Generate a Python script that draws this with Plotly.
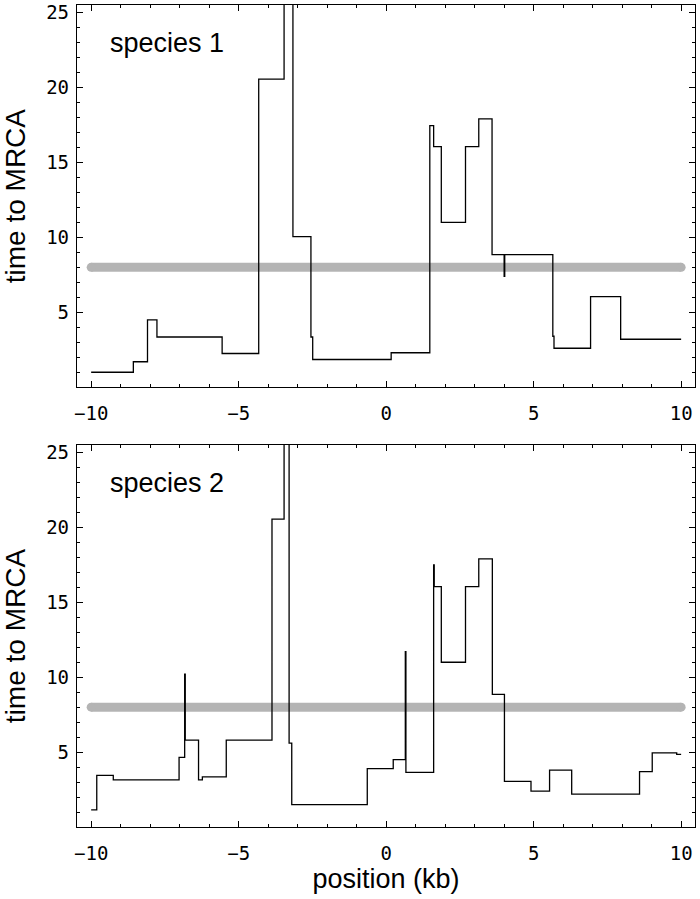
import plotly.graph_objects as go
from plotly.subplots import make_subplots

# ---- data (step functions: value holds from x_i until next x) ----
sp1_x = [-10.0, -8.57, -8.09, -7.77, -5.56, -4.32, -3.46, -3.16, -2.55, -2.49,
         0.17, 1.48, 1.61, 1.87, 2.69, 3.14, 3.59, 4.00, 4.02, 5.65, 5.69,
         6.93, 7.95, 10.0]
sp1_y = [1.0, 1.7, 4.5, 3.35, 2.25, 20.55, 30.0, 10.05, 3.35, 1.85,
         2.3, 17.45, 16.05, 11.0, 16.05, 17.9, 8.85, 7.4, 8.85, 3.4, 2.6,
         6.05, 3.2, 3.2]

sp2_x = [-10.0, -9.81, -9.25, -7.02, -6.83, -6.81, -6.36, -6.23, -5.42, -3.87,
         -3.46, -3.29, -3.20, -0.64, 0.24, 0.65, 0.67, 1.61, 1.63, 1.87,
         2.69, 3.14, 3.60, 4.01, 4.91, 5.54, 6.29, 8.59, 9.02, 9.85, 10.0]
sp2_y = [1.15, 3.45, 3.15, 4.65, 10.2, 5.8, 3.15, 3.35, 5.8, 20.55,
         30.0, 5.6, 1.5, 3.9, 4.5, 11.7, 3.65, 17.5, 16.05, 11.0,
         16.05, 17.9, 8.85, 3.05, 2.4, 3.8, 2.2, 3.7, 4.95, 4.85, 4.85]

ref_x = [-10, 10]
ref_y = [8, 8]

panel_labels = ["species 1", "species 2"]
x_ticks = [-10, -5, 0, 5, 10]
y_ticks = [5, 10, 15, 20, 25]

fig = make_subplots(rows=2, cols=1, vertical_spacing=0.07)

for row, (xs, ys) in enumerate([(sp1_x, sp1_y), (sp2_x, sp2_y)], start=1):
    fig.add_trace(go.Scatter(x=ref_x, y=ref_y, mode="lines+markers",
                             line=dict(color="#b4b4b4", width=9),
                             marker=dict(color="#b4b4b4", size=9),
                             showlegend=False, hoverinfo="skip"), row=row, col=1)
    fig.add_trace(go.Scatter(x=xs, y=ys, mode="lines", line_shape="hv",
                             line=dict(color="black", width=1.3),
                             showlegend=False), row=row, col=1)

tickfont = dict(family="DejaVu Sans Mono", size=19, color="black")
titlefont = dict(family="Liberation Sans", size=28, color="black")

for row in (1, 2):
    fig.update_xaxes(range=[-10.48, 10.47], tickvals=x_ticks, ticks="inside",
                     ticklen=6, tickwidth=1, tickcolor="black",
                     minor=dict(dtick=1, ticks="inside", ticklen=3, tickcolor="black"),
                     showline=True, linecolor="black", linewidth=1.3, mirror="ticks",
                     showgrid=False, zeroline=False, tickfont=tickfont,
                     ticklabelstandoff=9, ticklabeloverflow="allow",
                     automargin=False, row=row, col=1)
    fig.update_yaxes(range=[0, 25.5], tickvals=y_ticks, ticks="inside",
                     ticklen=6, tickwidth=1, tickcolor="black",
                     minor=dict(dtick=1, ticks="inside", ticklen=3, tickcolor="black"),
                     showline=True, linecolor="black", linewidth=1.3, mirror="ticks",
                     showgrid=False, zeroline=False, tickfont=tickfont,
                     ticklabelstandoff=3, ticklabeloverflow="allow",
                     title=dict(text="time to MRCA", font=titlefont, standoff=21),
                     automargin=False, row=row, col=1)

fig.update_xaxes(title=dict(text="position (kb)",
                            font=dict(family="Liberation Sans", size=27, color="black"),
                            standoff=5), row=2, col=1)

fig.update_layout(
    width=700, height=899,
    margin=dict(l=77, r=5, t=5, b=72, autoexpand=False),
    paper_bgcolor="white", plot_bgcolor="white",
)
fig.layout.yaxis.domain = [0.535, 1.0]
fig.layout.yaxis2.domain = [0.0, 0.4647]

for i, txt in enumerate(panel_labels):
    xref = "x" if i == 0 else "x2"
    yref = "y" if i == 0 else "y2"
    fig.add_annotation(x=-9.42, y=22.95, xref=xref, yref=yref, text=txt,
                       showarrow=False, xanchor="left", yanchor="middle",
                       font=dict(family="Liberation Sans", size=27, color="black"))

fig.write_html("out.html", config={"displayModeBar": False},
               post_script="document.body.style.margin='0';document.body.style.overflow='hidden';")
